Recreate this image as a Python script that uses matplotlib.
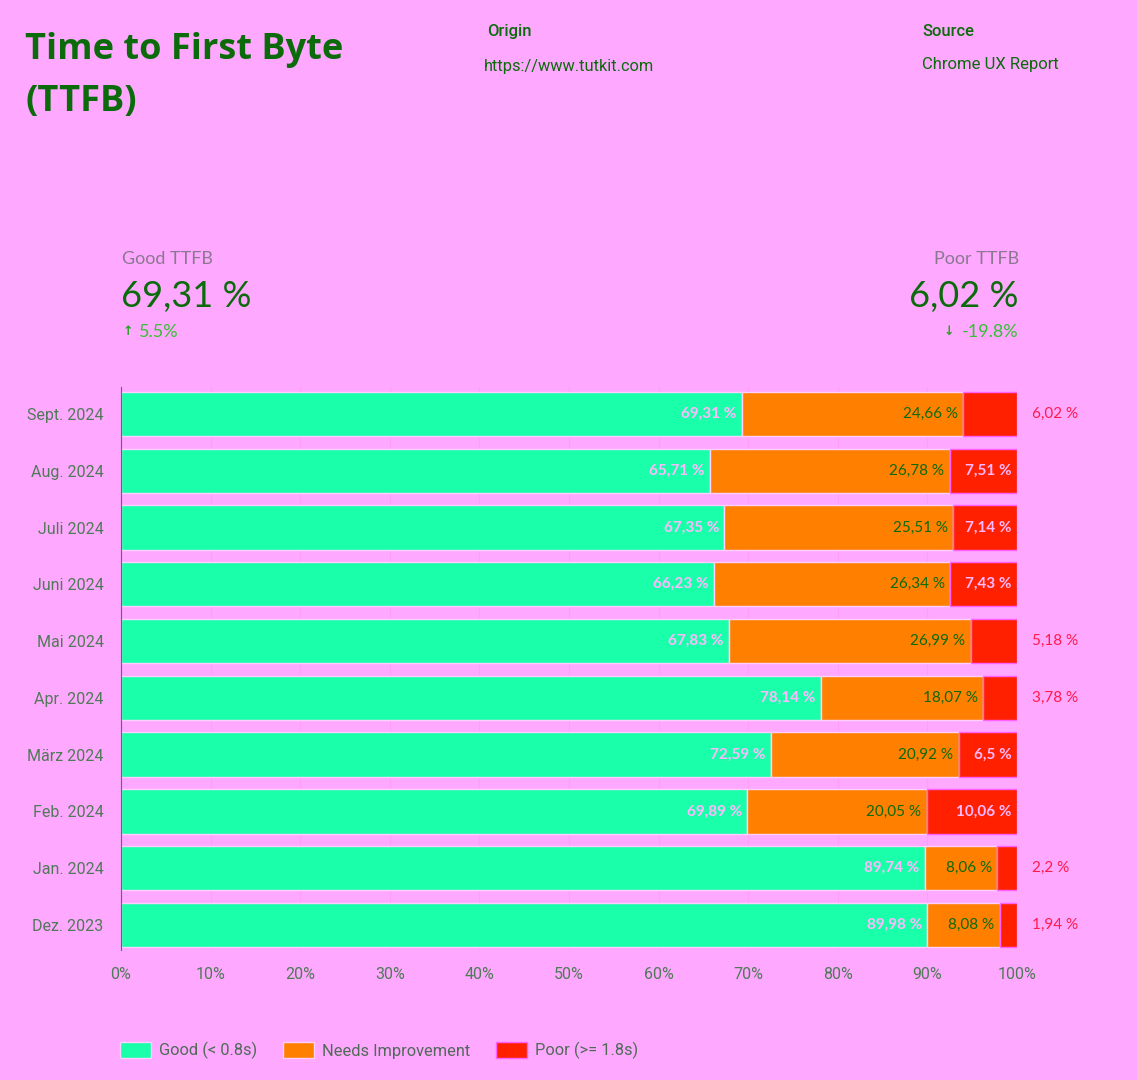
import matplotlib.pyplot as plt
from matplotlib.patches import Patch
import numpy as np

# data
months = ['Sept. 2024', 'Aug. 2024', 'Juli 2024', 'Juni 2024', 'Mai 2024',
          'Apr. 2024', 'März 2024', 'Feb. 2024', 'Jan. 2024', 'Dez. 2023']
good = [69.31, 65.71, 67.35, 66.23, 67.83, 78.14, 72.59, 69.89, 89.74, 89.98]
needs = [24.66, 26.78, 25.51, 26.34, 26.99, 18.07, 20.92, 20.05, 8.06, 8.08]
poor = [6.02, 7.51, 7.14, 7.43, 5.18, 3.78, 6.5, 10.06, 2.2, 1.94]
ticks = [0, 10, 20, 30, 40, 50, 60, 70, 80, 90, 100]

bg = '#ffa8ff'
c_good = '#1affaa'
c_needs = '#ff8000'
c_poor = '#ff2000'
dark_green = '#0b6b0b'
tick_col = '#4f7a57'

def fmt(v):
    return ('%g' % v).replace('.', ',') + ' %'

plt.rcParams['font.family'] = ['Roboto', 'DejaVu Sans']

fig = plt.figure(figsize=(11.37, 10.80), dpi=100, facecolor=bg)
ax = fig.add_axes([0.1064, 0.1204, 0.788, 0.5213], facecolor=bg)

y = np.arange(len(months))
h = 0.78
left_needs = np.array(good)
left_poor = left_needs + np.array(needs)
ax.barh(y, good, height=h, color=c_good, edgecolor='#ffd0ff', linewidth=1)
ax.barh(y, needs, left=left_needs, height=h, color=c_needs, edgecolor='#ffd0ff', linewidth=1)
ax.barh(y, poor, left=left_poor, height=h, color=c_poor, edgecolor='#ff60ff', linewidth=1)

for i in range(len(months)):
    ax.text(good[i] - 0.6, y[i], fmt(good[i]), ha='right', va='center',
            color='#ffb8ff', fontsize=11, fontweight='bold', family='Lato')
    ax.text(left_poor[i] - 0.6, y[i], fmt(needs[i]), ha='right', va='center',
            color=dark_green, fontsize=11, family='Lato')
    if poor[i] >= 6.2:
        ax.text(99.4, y[i], fmt(poor[i]), ha='right', va='center',
                color='#ffb8ff', fontsize=11, fontweight='bold', family='Lato')
    else:
        ax.text(101.7, y[i], fmt(poor[i]), ha='left', va='center',
                color='#ff1a4a', fontsize=11, family='Lato')

ax.set_xlim(0, 100)
ax.set_ylim(9.44, -0.475)
ax.set_yticks(y)
ax.set_yticklabels(months)
ax.set_xticks(ticks)
ax.set_xticklabels(['%d%%' % t for t in ticks])
ax.tick_params(axis='both', length=0, colors=tick_col, labelsize=11.5)
ax.tick_params(axis='x', pad=12)
ax.tick_params(axis='y', pad=12.5)
ax.grid(axis='x', color='#ff9ef5', linewidth=1)
ax.set_axisbelow(True)
for s in ['top', 'right', 'bottom']:
    ax.spines[s].set_visible(False)
ax.spines['left'].set_color('#666666')

# header texts
fig.text(0.022, 0.954, 'Time to First Byte', color=dark_green, fontsize=26,
         fontweight='bold', family='Open Sans', va='center')
fig.text(0.022, 0.906, '(TTFB)', color=dark_green, fontsize=26,
         fontweight='bold', family='Open Sans', va='center')
fig.text(0.428, 0.971, 'Origin', color=dark_green, fontsize=12, fontweight='medium', va='center')
fig.text(0.426, 0.938, 'https://www.tutkit.com', color=dark_green, fontsize=11.8, va='center')
fig.text(0.811, 0.971, 'Source', color=dark_green, fontsize=12, fontweight='medium', va='center')
fig.text(0.811, 0.940, 'Chrome UX Report', color=dark_green, fontsize=12, va='center')

# KPI block
fig.text(0.1075, 0.760, 'Good TTFB', color='#8a7890', fontsize=13, family='Lato', va='center')
fig.text(0.1065, 0.725, '69,31 %', color=dark_green, fontsize=26, family='Lato',
         va='center')
fig.text(0.108, 0.693, '\u2191', color='#2aa02a', fontsize=9, fontweight='bold', va='center')
fig.text(0.122, 0.693, '5.5%', color='#33c033', fontsize=13, family='Lato', va='center')

fig.text(0.896, 0.760, 'Poor TTFB', color='#8a7890', fontsize=13, family='Lato',
         va='center', ha='right')
fig.text(0.896, 0.725, '6,02 %', color=dark_green, fontsize=26, family='Lato',
         va='center', ha='right')
fig.text(0.896, 0.693, '-19.8%', color='#33c033', fontsize=13, family='Lato',
         va='center', ha='right')
fig.text(0.839, 0.693, '\u2193', color='#2aa02a', fontsize=9, fontweight='bold',
         va='center', ha='right')

# legend
handles = [Patch(facecolor=c_good, edgecolor='#ffd0ff', label='Good (< 0.8s)'),
           Patch(facecolor=c_needs, edgecolor='#ffd0ff', label='Needs Improvement'),
           Patch(facecolor=c_poor, edgecolor='#ff60ff', label='Poor (>= 1.8s)')]
leg = fig.legend(handles=handles, loc='center left', bbox_to_anchor=(0.1055, 0.027),
                 ncol=3, frameon=False, fontsize=11.8, handlelength=1.9, handleheight=1.1,
                 columnspacing=1.55, handletextpad=0.5, borderaxespad=0, borderpad=0)
for t in leg.get_texts():
    t.set_color('#4f6a57')

fig.savefig('out.png', dpi=100, facecolor=bg)
